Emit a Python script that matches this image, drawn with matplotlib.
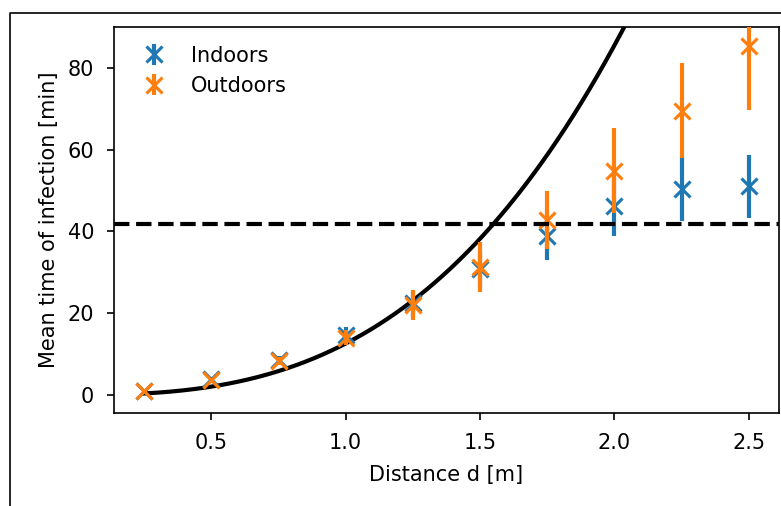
import numpy as np
import matplotlib
matplotlib.use("Agg")
import matplotlib.pyplot as plt
from matplotlib.lines import Line2D

# mean time of infection vs distance, simulated in two settings
distance = [0.25, 0.5, 0.75, 1.0, 1.25, 1.5, 1.75, 2.0, 2.25, 2.5]
indoors = [1.0, 3.8, 8.6, 14.6, 22.4, 30.7, 39.0, 46.3, 50.4, 51.0]
indoors_err = [0.2, 0.5, 1.0, 2.0, 3.0, 4.5, 5.9, 7.3, 7.9, 7.6]
outdoors = [1.0, 3.7, 8.4, 14.0, 22.0, 31.3, 42.8, 54.9, 69.5, 85.4]
outdoors_err = [0.2, 0.5, 1.0, 1.8, 3.6, 6.1, 7.1, 10.4, 11.6, 15.7]

# model curve t(d) = a d^2 + b d^3 and reference time
coef_a = 3.82
coef_b = 8.78
t_ref = 41.7

plt.rcParams["xtick.major.pad"] = 6
plt.rcParams["ytick.major.pad"] = 6

fig = plt.figure(figsize=(782 / 150, 506 / 150), dpi=150)
ax = fig.add_axes([114 / 782, 1 - 413 / 506, 665 / 782, 386 / 506])

# partial outer frame
fig.add_artist(Line2D([10 / 782, 10 / 782, 1.0], [0.0, 1 - 13 / 506, 1 - 13 / 506],
                      transform=fig.transFigure, color="black", lw=0.8))

d_fine = np.linspace(0.25, 2.5, 300)
ax.plot(d_fine, coef_a * d_fine**2 + coef_b * d_fine**3, color="black", lw=2, zorder=1)

ax.errorbar(distance, indoors, yerr=indoors_err, fmt="x", color="C0", ms=8, mew=1.5,
            elinewidth=2, label="Indoors", zorder=2)
ax.errorbar(distance, outdoors, yerr=outdoors_err, fmt="x", color="C1", ms=8, mew=1.5,
            elinewidth=2, label="Outdoors", zorder=3)
ax.axhline(t_ref, color="black", ls="--", lw=2, zorder=4)

ax.set_xlim(0.1375, 2.6125)
ax.set_ylim(-4.4, 90)
ax.set_xticks([0.5, 1.0, 1.5, 2.0, 2.5])
ax.set_yticks([0, 20, 40, 60, 80])
ax.set_xlabel("Distance d [m]", labelpad=6)
ax.set_ylabel("Mean time of infection [min]")
ax.legend(loc="upper left", frameon=False)

fig.savefig("out.png", dpi=150)
